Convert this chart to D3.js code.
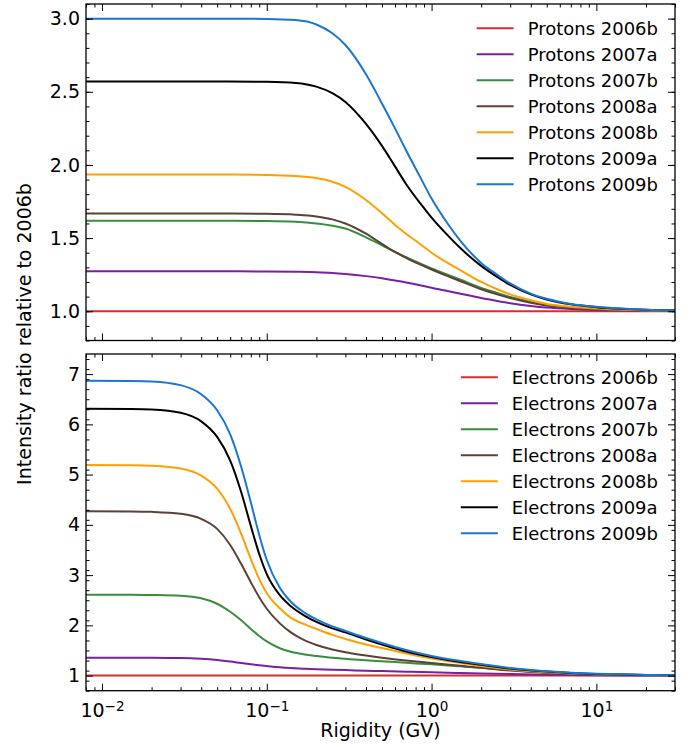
<!DOCTYPE html>
<html>
<head>
<meta charset="utf-8">
<script src="https://cdn.jsdelivr.net/npm/d3@7"></script>
<style>
  body { margin: 0; background: #fff; }
  text { font-family: "DejaVu Sans", sans-serif; fill: #000; }
</style>
</head>
<body>
<svg id="chart" width="692" height="747"></svg>
<script>
// seasons shared by both panels
const seasons = ["2006b", "2007a", "2007b", "2008a", "2008b", "2009a", "2009b"];

// proton ratios
const protonRigidity = [0.008, 0.05, 0.1, 0.15, 0.2, 0.25, 0.3, 0.4, 0.5, 0.6, 0.7, 0.85, 1, 1.25, 1.5, 2, 2.5, 3, 4, 5, 7, 10, 15, 20, 30];
const protons2006b = [1, 1, 1, 1, 1, 1, 1, 1, 1, 1, 1, 1, 1, 1, 1, 1, 1, 1, 1, 1, 1, 1, 1, 1, 1];
const protons2007a = [1.273, 1.273, 1.272, 1.27, 1.267, 1.262, 1.255, 1.24, 1.225, 1.21, 1.197, 1.178, 1.16, 1.138, 1.12, 1.09, 1.07, 1.055, 1.036, 1.025, 1.015, 1.009, 1.005, 1.003, 1.002];
const protons2007b = [1.618, 1.618, 1.616, 1.611, 1.60, 1.585, 1.565, 1.505, 1.45, 1.405, 1.37, 1.327, 1.293, 1.25, 1.215, 1.16, 1.125, 1.097, 1.064, 1.044, 1.027, 1.016, 1.009, 1.006, 1.003];
const protons2008a = [1.668, 1.668, 1.666, 1.66, 1.648, 1.628, 1.60, 1.53, 1.46, 1.405, 1.365, 1.32, 1.285, 1.24, 1.205, 1.15, 1.115, 1.09, 1.058, 1.04, 1.024, 1.014, 1.008, 1.005, 1.003];
const protons2008b = [1.934, 1.934, 1.932, 1.925, 1.91, 1.885, 1.85, 1.76, 1.67, 1.59, 1.53, 1.46, 1.40, 1.33, 1.28, 1.20, 1.15, 1.115, 1.075, 1.05, 1.03, 1.018, 1.01, 1.007, 1.004];
const protons2009a = [2.571, 2.571, 2.568, 2.56, 2.535, 2.49, 2.43, 2.28, 2.13, 1.99, 1.87, 1.74, 1.64, 1.52, 1.43, 1.31, 1.235, 1.18, 1.115, 1.08, 1.047, 1.028, 1.016, 1.01, 1.006];
const protons2009b = [3.0, 3.0, 2.998, 2.99, 2.96, 2.90, 2.82, 2.62, 2.42, 2.25, 2.10, 1.92, 1.77, 1.60, 1.48, 1.33, 1.25, 1.19, 1.12, 1.085, 1.05, 1.03, 1.017, 1.011, 1.006];

// electron ratios
const electronRigidity = [0.008, 0.015, 0.02, 0.03, 0.04, 0.05, 0.06, 0.07, 0.08, 0.09, 0.1, 0.12, 0.14, 0.17, 0.2, 0.25, 0.3, 0.4, 0.5, 0.7, 1, 1.5, 2, 3, 5, 7, 10, 20, 30];
const electrons2006b = [1, 1, 1, 1, 1, 1, 1, 1, 1, 1, 1, 1, 1, 1, 1, 1, 1, 1, 1, 1, 1, 1, 1, 1, 1, 1, 1, 1, 1];
const electrons2007a = [1.355, 1.355, 1.354, 1.35, 1.335, 1.31, 1.28, 1.25, 1.225, 1.205, 1.19, 1.165, 1.15, 1.137, 1.128, 1.117, 1.11, 1.098, 1.09, 1.078, 1.066, 1.052, 1.042, 1.03, 1.017, 1.011, 1.007, 1.003, 1.002];
const electrons2007b = [2.61, 2.61, 2.605, 2.59, 2.54, 2.43, 2.27, 2.10, 1.93, 1.79, 1.68, 1.545, 1.475, 1.42, 1.39, 1.355, 1.335, 1.305, 1.285, 1.255, 1.225, 1.185, 1.155, 1.11, 1.062, 1.04, 1.025, 1.01, 1.006];
const electrons2008a = [4.27, 4.268, 4.26, 4.22, 4.12, 3.92, 3.60, 3.22, 2.86, 2.56, 2.33, 2.04, 1.86, 1.70, 1.61, 1.52, 1.465, 1.40, 1.355, 1.30, 1.25, 1.195, 1.155, 1.10, 1.055, 1.036, 1.023, 1.009, 1.006];
const electrons2008b = [5.19, 5.185, 5.175, 5.12, 4.98, 4.72, 4.32, 3.82, 3.32, 2.92, 2.64, 2.34, 2.15, 2.02, 1.93, 1.81, 1.73, 1.62, 1.55, 1.44, 1.34, 1.25, 1.19, 1.12, 1.065, 1.042, 1.027, 1.011, 1.007];
const electrons2009a = [6.31, 6.305, 6.295, 6.23, 6.06, 5.75, 5.28, 4.65, 3.98, 3.42, 3.02, 2.60, 2.38, 2.19, 2.07, 1.94, 1.86, 1.72, 1.62, 1.48, 1.37, 1.27, 1.215, 1.14, 1.08, 1.052, 1.033, 1.013, 1.008];
const electrons2009b = [6.87, 6.865, 6.855, 6.78, 6.60, 6.28, 5.80, 5.15, 4.45, 3.80, 3.30, 2.75, 2.47, 2.25, 2.12, 1.98, 1.89, 1.75, 1.65, 1.51, 1.39, 1.29, 1.23, 1.15, 1.085, 1.055, 1.035, 1.014, 1.009];

// axis ticks
const xMajorTicks = [0.01, 0.1, 1, 10];
const xTickExponents = ["\u22122", "\u22121", "0", "1"];
const protonTicks = [1.0, 1.5, 2.0, 2.5, 3.0];
const electronTicks = [1, 2, 3, 4, 5, 6, 7];

const colors = ["#d32f2f", "#7b1fa2", "#388e3c", "#5d4037", "#ffa000", "#000000", "#1976d2"];

const svg = d3.select("#chart");
const left = 86, right = 675;

const x = d3.scaleLog().domain([0.008, 30]).range([left, right]);

// minor ticks on the log axis: 2..9 in every decade
const xMinorTicks = [];
[0.001, 0.01, 0.1, 1, 10].forEach(d => {
    for (let k = 2; k <= 9; k++) {
        const v = d * k;
        if (v >= 0.008 && v <= 30) xMinorTicks.push(v);
    }
});

function drawPanel(cfg) {
    const y = d3.scaleLinear().domain(cfg.domain).range([cfg.bottom, cfg.top]);
    const g = svg.append("g");

    const line = d3.line()
        .x((d, i) => x(cfg.rigidity[i]))
        .y(d => y(d))
        .curve(d3.curveMonotoneX);

    const clipId = "clip" + cfg.name;
    svg.append("clipPath").attr("id", clipId)
        .append("rect")
        .attr("x", left).attr("y", cfg.top)
        .attr("width", right - left).attr("height", cfg.bottom - cfg.top);

    const lines = g.append("g").attr("clip-path", `url(#${clipId})`);
    cfg.series.forEach((s, i) => {
        lines.append("path")
            .datum(s)
            .attr("fill", "none")
            .attr("stroke", colors[i])
            .attr("stroke-width", 2)
            .attr("d", line);
    });

    // y axes, ticks pointing inward on both sides
    const yMinor = d3.range(cfg.domain[0], cfg.domain[1] + 1e-9, cfg.minorStep);
    g.append("g").attr("transform", `translate(${left},0)`)
        .call(d3.axisLeft(y).tickValues(yMinor).tickSize(-3.5).tickFormat(""));
    g.append("g").attr("transform", `translate(${left},0)`)
        .call(d3.axisLeft(y).tickValues(cfg.ticks).tickSize(-7).tickPadding(6).tickFormat(cfg.format))
        .style("font-size", "19px");
    g.append("g").attr("transform", `translate(${right},0)`)
        .call(d3.axisRight(y).tickValues(yMinor).tickSize(-3.5).tickFormat(""));
    g.append("g").attr("transform", `translate(${right},0)`)
        .call(d3.axisRight(y).tickValues(cfg.ticks).tickSize(-7).tickFormat(""));

    // x axes, top and bottom
    g.append("g").attr("transform", `translate(0,${cfg.top})`)
        .call(d3.axisTop(x).tickValues(xMinorTicks).tickSize(-3.5).tickFormat(""));
    g.append("g").attr("transform", `translate(0,${cfg.top})`)
        .call(d3.axisTop(x).tickValues(xMajorTicks).tickSize(-7).tickFormat(""));
    g.append("g").attr("transform", `translate(0,${cfg.bottom})`)
        .call(d3.axisBottom(x).tickValues(xMinorTicks).tickSize(-3.5).tickFormat(""));
    const xb = g.append("g").attr("transform", `translate(0,${cfg.bottom})`)
        .call(d3.axisBottom(x).tickValues(xMajorTicks).tickSize(-7).tickPadding(6).tickFormat(""));

    if (cfg.xLabels) {
        xb.style("font-size", "19px");
        xb.selectAll(".tick text").each(function(d, i) {
            const t = d3.select(this).attr("dy", "1.05em");
            t.append("tspan").text("10");
            t.append("tspan").text(xTickExponents[i])
                .attr("dy", "-0.45em").style("font-size", "13.5px");
        });
    }

    g.selectAll(".domain").remove();
    g.selectAll(".tick line").attr("stroke", "#000").attr("stroke-width", 1);

    g.append("rect")
        .attr("x", left).attr("y", cfg.top)
        .attr("width", right - left).attr("height", cfg.bottom - cfg.top)
        .attr("fill", "none").attr("stroke", "#000").attr("stroke-width", 1.3);

    // legend, right aligned in the upper corner
    const leg = g.append("g");
    const items = cfg.series.map((s, i) => {
        return leg.append("text")
            .attr("y", cfg.legendTop + i * 26)
            .attr("dy", "0.35em")
            .style("font-size", "18px")
            .text(cfg.name + " " + seasons[i]);
    });
    const maxW = d3.max(items, t => t.node().getComputedTextLength());
    const textX = right - 17 - maxW;
    items.forEach((t, i) => {
        t.attr("x", textX);
        leg.append("line")
            .attr("x1", textX - 51).attr("x2", textX - 14)
            .attr("y1", cfg.legendTop + i * 26).attr("y2", cfg.legendTop + i * 26)
            .attr("stroke", colors[i]).attr("stroke-width", 2);
    });
}

drawPanel({
    name: "Protons",
    top: 4, bottom: 340.5,
    domain: [0.8, 3.1], minorStep: 0.1,
    ticks: protonTicks, format: d3.format(".1f"),
    rigidity: protonRigidity,
    series: [protons2006b, protons2007a, protons2007b, protons2008a, protons2008b, protons2009a, protons2009b],
    legendTop: 28.3,
    xLabels: false
});

drawPanel({
    name: "Electrons",
    top: 354, bottom: 690.7,
    domain: [0.7, 7.4], minorStep: 0.2,
    ticks: electronTicks, format: d3.format("d"),
    rigidity: electronRigidity,
    series: [electrons2006b, electrons2007a, electrons2007b, electrons2008a, electrons2008b, electrons2009a, electrons2009b],
    legendTop: 377.3,
    xLabels: true
});

svg.append("text")
    .attr("x", (left + right) / 2).attr("y", 737)
    .attr("text-anchor", "middle")
    .style("font-size", "19px")
    .text("Rigidity (GV)");

svg.append("text")
    .attr("transform", "translate(31,334) rotate(-90)")
    .attr("text-anchor", "middle")
    .style("font-size", "19px")
    .text("Intensity ratio relative to 2006b");
</script>
</body>
</html>
